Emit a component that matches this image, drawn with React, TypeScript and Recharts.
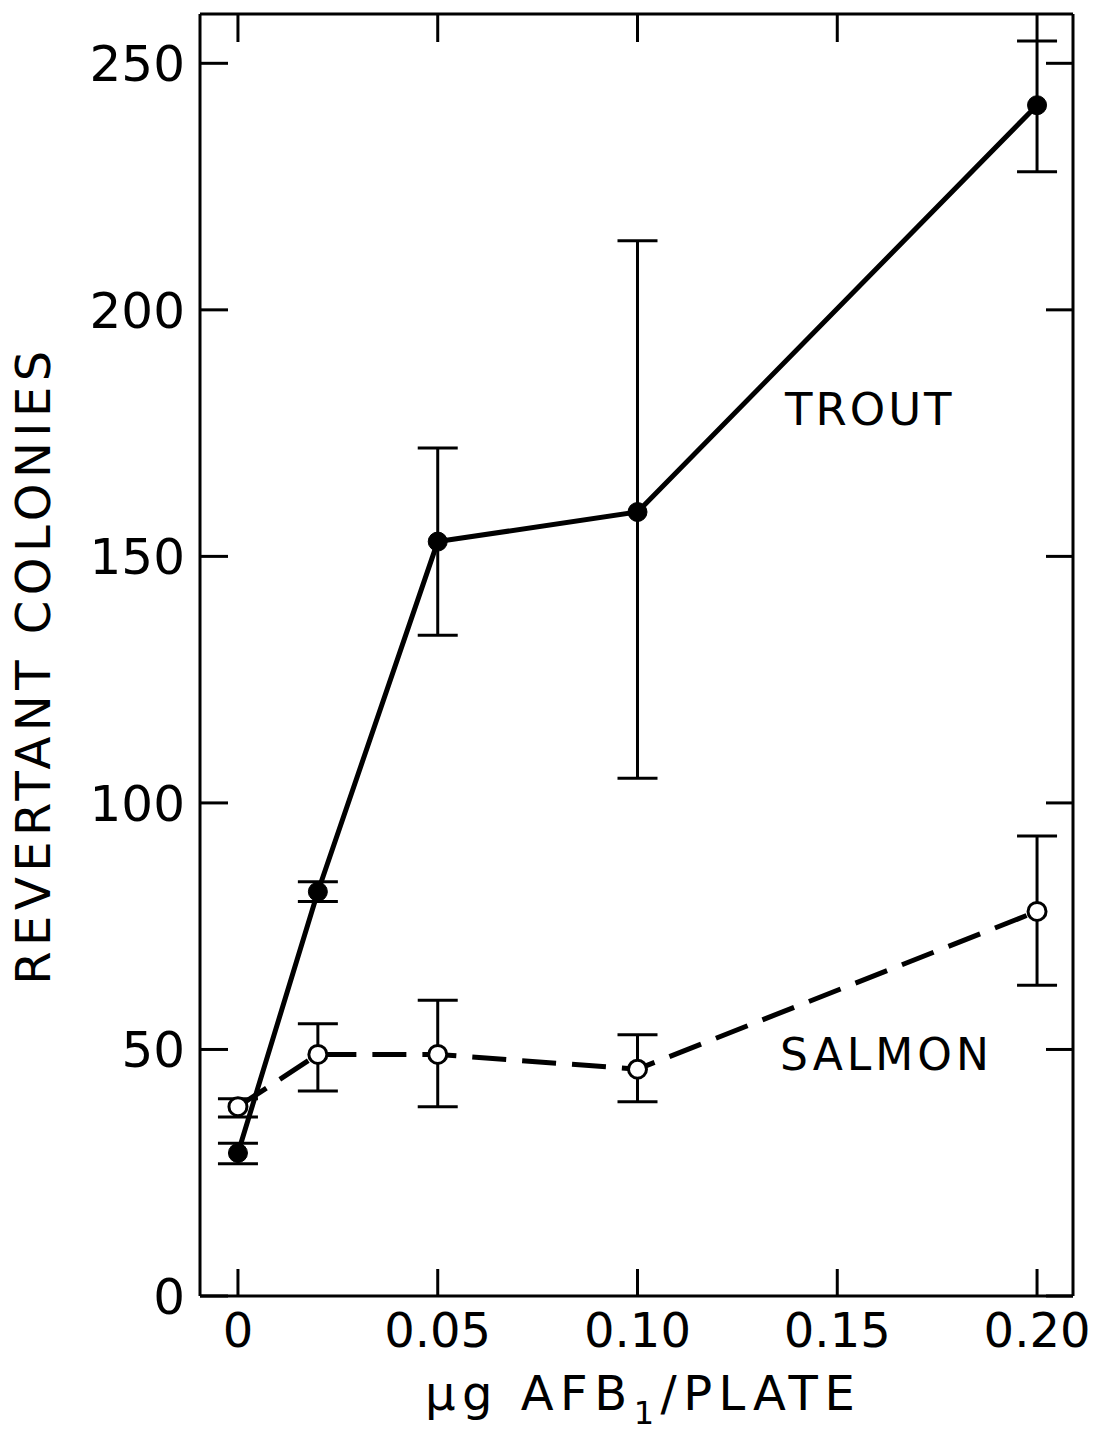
import { ComposedChart, Line, XAxis, YAxis, ErrorBar } from 'recharts';

// dose (µg AFB1 / plate)
const doses = [0, 0.02, 0.05, 0.1, 0.2];

// trout: mean and error bar ends
const troutMean = [29, 82, 153, 159, 241.5];
const troutLow = [26.8, 80, 134, 105, 228];
const troutHigh = [31, 84, 172, 214, 254.5];

// salmon: mean and error bar ends
const salmonMean = [38.4, 49, 49, 46, 78];
const salmonLow = [36.3, 41.6, 38.4, 39.4, 63];
const salmonHigh = [40, 55.2, 60, 53, 93.3];

const xTicks = [0, 0.05, 0.1, 0.15, 0.2];
const xTickLabels = ['0', '0.05', '0.10', '0.15', '0.20'];
const yTicks = [0, 50, 100, 150, 200, 250];

const data = doses.map((d, i) => ({
  dose: d,
  trout: troutMean[i],
  troutErr: [troutMean[i] - troutLow[i], troutHigh[i] - troutMean[i]],
  salmon: salmonMean[i],
  salmonErr: [salmonMean[i] - salmonLow[i], salmonHigh[i] - salmonMean[i]],
}));

const FONT = '"DejaVu Sans", sans-serif';
const X_DOMAIN: [number, number] = [-0.0095, 0.209];
const Y_DOMAIN: [number, number] = [0, 260];
const axisStroke = { stroke: '#000', strokeWidth: 3 };

const fmtX = (v: number) => xTickLabels[xTicks.indexOf(v)] ?? String(v);
// tick lines only, no label (top and right frame)
const NoLabel = () => <g />;

export default function App() {
  return (
    <div style={{ position: 'absolute', left: 0, top: 0, width: 1096, height: 1438, background: '#fff' }}>
      <ComposedChart width={1096} height={1438} data={data} margin={{ top: 0, right: 0, bottom: 0, left: 0 }}>
        <XAxis
          xAxisId="b"
          dataKey="dose"
          type="number"
          domain={X_DOMAIN}
          allowDataOverflow
          ticks={xTicks}
          interval={0}
          tickFormatter={fmtX}
          height={142}
          tickSize={-27}
          tickMargin={44}
          axisLine={axisStroke}
          tickLine={axisStroke}
          tick={{ fill: '#000', fontSize: 48, fontFamily: FONT }}
        />
        <XAxis
          xAxisId="t"
          orientation="top"
          dataKey="dose"
          type="number"
          domain={X_DOMAIN}
          allowDataOverflow
          ticks={xTicks}
          interval={0}
          height={14}
          tickSize={-28}
          axisLine={axisStroke}
          tickLine={axisStroke}
          tick={NoLabel}
        />
        <YAxis
          yAxisId="l"
          type="number"
          domain={Y_DOMAIN}
          allowDataOverflow
          ticks={yTicks}
          interval={0}
          width={200}
          tickSize={-28}
          tickMargin={43}
          axisLine={axisStroke}
          tickLine={axisStroke}
          tick={{ fill: '#000', fontSize: 50, fontFamily: FONT }}
        />
        <YAxis
          yAxisId="r"
          orientation="right"
          type="number"
          domain={Y_DOMAIN}
          allowDataOverflow
          ticks={yTicks}
          interval={0}
          width={23}
          tickSize={-27}
          axisLine={axisStroke}
          tickLine={axisStroke}
          tick={NoLabel}
        />
        <Line
          xAxisId="b"
          yAxisId="l"
          type="linear"
          dataKey="trout"
          stroke="#000"
          strokeWidth={5}
          dot={{ r: 9.5, fill: '#000', stroke: '#000', strokeWidth: 1 }}
          activeDot={false}
          isAnimationActive={false}
        >
          <ErrorBar dataKey="troutErr" direction="y" width={20} stroke="#000" strokeWidth={3} isAnimationActive={false} />
        </Line>
        <Line
          xAxisId="t"
          yAxisId="r"
          type="linear"
          dataKey="salmon"
          stroke="#000"
          strokeWidth={5}
          strokeDasharray="34 16"
          dot={{ r: 9, fill: '#fff', stroke: '#000', strokeWidth: 3, strokeDasharray: 'none' }}
          activeDot={false}
          isAnimationActive={false}
        >
          <ErrorBar dataKey="salmonErr" direction="y" width={20} stroke="#000" strokeWidth={3} isAnimationActive={false} />
        </Line>
      </ComposedChart>
      <svg
        width={1096}
        height={1438}
        style={{ position: 'absolute', left: 0, top: 0, pointerEvents: 'none' }}
        fontFamily={FONT}
        fill="#000"
      >
        <text x={785} y={425} fontSize={45} letterSpacing={3}>TROUT</text>
        <text x={780} y={1070} fontSize={44} letterSpacing={4}>SALMON</text>
        <text x={50} y={665} fontSize={48} letterSpacing={5.5} textAnchor="middle" transform="rotate(-90, 50, 665)">
          REVERTANT COLONIES
        </text>
        <text x={425} y={1410} fontSize={48} letterSpacing={6.5}>
          µg AFB<tspan fontSize={32} dy={14}>1</tspan><tspan dy={-14}>/PLATE</tspan>
        </text>
      </svg>
    </div>
  );
}
